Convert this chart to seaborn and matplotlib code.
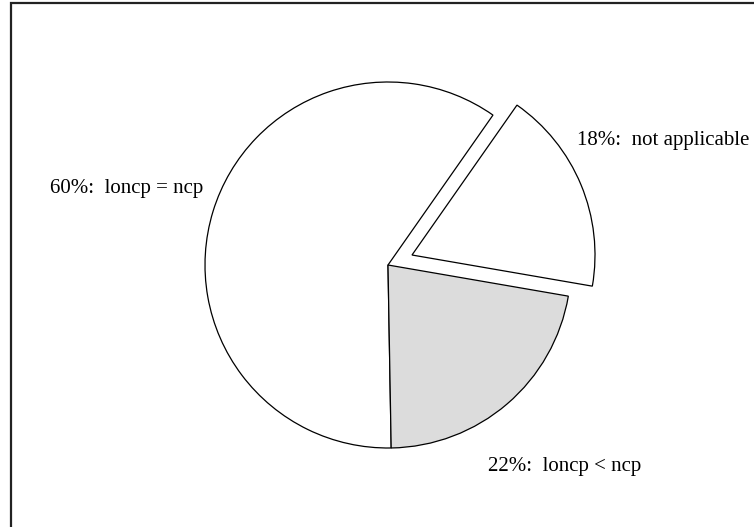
import matplotlib
matplotlib.use("Agg")
import matplotlib.pyplot as plt
from matplotlib.patches import Rectangle
import seaborn as sns

# Share of cases for each comparison outcome
categories = ["loncp = ncp", "loncp < ncp", "not applicable"]
shares = [60, 22, 18]
fills = ["white", "#dcdcdc", "white"]
explode = [0.0, 0.0, 26.0]

# Label anchors (pixel-like data coordinates) and alignment
label_pos = [(203, 338), (488, 60), (577, 387)]
label_ha = ["right", "left", "left"]

sns.set_theme(style="white")
plt.rcParams["font.family"] = ["Liberation Serif", "DejaVu Serif"]

fig = plt.figure(figsize=(7.54, 5.27), dpi=100)
ax = fig.add_axes([0, 0, 1, 1])

center = (388, 262)
radius = 183
wedges, _ = ax.pie(
    shares,
    colors=fills,
    explode=explode,
    startangle=55,
    counterclock=True,
    center=center,
    radius=radius,
    frame=True,
    wedgeprops=dict(edgecolor="black", linewidth=0.9),
)
ax.set_xlim(0, 754)
ax.set_ylim(0, 527)
ax.set_aspect("equal")
ax.axis("off")

for cat, val, (x, y), ha in zip(categories, shares, label_pos, label_ha):
    ax.text(x, y, f"{val}%:  {cat}", ha=ha, va="center", fontsize=15, color="black")

# Page border (top and left edges visible)
ax.add_patch(Rectangle((11, -20), 800, 544.5, fill=False, edgecolor="#222222",
                       linewidth=1.6, clip_on=False))

fig.savefig("out.png", dpi=100)
